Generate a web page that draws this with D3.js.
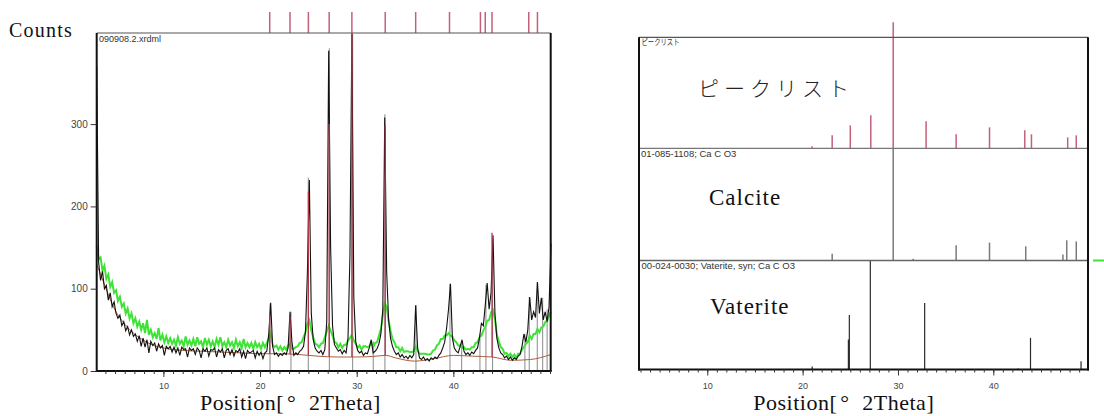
<!DOCTYPE html>
<html>
<head>
<meta charset="utf-8">
<script src="https://cdn.jsdelivr.net/npm/d3@7"></script>
<style>
  body { margin: 0; background: #fff; }
  svg { display: block; }
</style>
</head>
<body>
<script>
// scan grid of the measured pattern (start angle + step size)
const start2Theta = 3.1
const step2Theta = 0.2

// measured counts (black), one value per step
const measuredCounts = [
  370, 132, 110, 121, 100, 104, 86, 95, 78, 84,
  70, 64, 68, 55, 60, 49, 54, 44, 50, 42,
  45, 36, 43, 30, 40, 29, 38, 22, 36, 31,
  34, 24, 33, 28, 31, 19, 30, 27, 30, 23,
  29, 22, 28, 19, 29, 26, 27, 17, 28, 25,
  27, 20, 28, 25, 16, 27, 24, 28, 18, 26,
  25, 28, 17, 26, 23, 27, 16, 25, 27, 20,
  26, 18, 25, 23, 27, 17, 24, 15, 25, 22,
  23, 25, 16, 24, 19, 23, 15, 22, 24, 45,
  83, 30, 20, 22, 18, 21, 19, 22, 20, 28,
  72, 35, 19, 22, 20, 24, 26, 30, 48, 120,
  232, 70, 38, 28, 24, 22, 25, 20, 26, 60,
  389, 150, 55, 32, 28, 24, 26, 21, 25, 22,
  40, 140, 410, 90, 35, 25, 22, 24, 19, 22,
  21, 28, 38, 22, 24, 27, 33, 45, 75, 308,
  120, 62, 40, 30, 24, 20, 22, 17, 20, 16,
  18, 15, 19, 16, 20, 80, 28, 16, 14, 17,
  13, 15, 12, 16, 14, 17, 15, 19, 22, 28,
  35, 52, 75, 106, 40, 28, 24, 22, 30, 38,
  24, 20, 22, 19, 23, 21, 25, 28, 40, 58,
  55, 80, 107, 75, 95, 165, 70, 40, 28, 22,
  20, 16, 18, 14, 17, 13, 16, 14, 18, 20,
  30, 45, 35, 50, 90, 62, 72, 65, 108, 70,
  89, 62, 72, 60, 78, 155
]

// profile (green), same grid
const profileCounts = [
  152, 136, 138, 122, 128, 112, 117, 102, 108, 95,
  98, 85, 90, 78, 82, 70, 76, 64, 70, 58,
  64, 54, 60, 50, 58, 46, 62, 44, 50, 41,
  46, 39, 52, 37, 44, 35, 42, 34, 40, 33,
  38, 31, 41, 33, 37, 30, 42, 32, 37, 31,
  39, 30, 41, 33, 36, 29, 40, 32, 38, 30,
  36, 29, 39, 32, 41, 30, 35, 29, 38, 31,
  35, 28, 38, 30, 35, 28, 39, 29, 34, 29,
  34, 27, 35, 29, 33, 27, 34, 29, 34, 40,
  46, 32, 29, 31, 26, 30, 25, 29, 26, 31,
  33, 27, 27, 29, 30, 34, 35, 41, 47, 58,
  62, 49, 41, 33, 32, 29, 33, 34, 41, 48,
  55, 49, 43, 35, 34, 29, 33, 28, 32, 32,
  37, 40, 44, 37, 33, 28, 31, 26, 30, 30,
  29, 30, 35, 29, 34, 35, 43, 51, 67, 82,
  78, 61, 49, 39, 35, 29, 29, 24, 28, 23,
  24, 24, 23, 23, 24, 30, 25, 21, 21, 21,
  21, 20, 20, 21, 25, 26, 31, 33, 39, 39,
  43, 43, 46, 43, 42, 37, 35, 31, 31, 28,
  29, 26, 27, 26, 29, 29, 34, 35, 41, 43,
  49, 54, 61, 62, 71, 74, 63, 44, 36, 29,
  27, 21, 22, 18, 21, 17, 20, 16, 21, 21,
  26, 29, 33, 35, 43, 39, 45, 45, 51, 47,
  53, 54, 59, 61, 67, 72
]

// background (brown)
const bg2Theta = [3.1, 4, 5, 6, 7, 8, 9, 10, 12, 14, 16, 18, 20, 22, 24, 26, 28, 30, 32, 33, 34, 36, 38, 40, 42, 44, 46, 48, 50.07]
const bgCounts = [130, 102, 74, 57, 45, 37, 31, 28, 25, 24, 23, 22, 21, 21, 20, 18, 17, 17, 18, 19, 16, 12, 15, 19, 18, 17, 13, 14, 20]

// peak list
const peakList2Theta = [21.0, 23.1, 25.0, 27.15, 29.5, 32.95, 36.1, 39.6, 42.8, 43.3, 44.0, 47.8, 48.7]
const peakListIntensity = [1.6, 10.3, 18.2, 26.2, 100, 21.4, 11.1, 16.6, 0.5, 14.3, 11.1, 8.7, 10.3]
const peakFitCounts = [68, 66, 218, 300, 410, 298, 0, 0, 0, 0, 168, 0, 0]

// grey sticks in the pattern
const stick2Theta = [21.03, 23.2, 24.99, 27.17, 29.58, 31.71, 32.92, 36.13, 39.65, 40.86, 42.75, 43.37, 44.06, 47.4, 47.85, 48.68, 49.24, 49.7]
const stickCounts = [82, 72, 235, 392, 410, 36, 312, 80, 106, 36, 45, 105, 160, 45, 90, 108, 89, 75]

// reference patterns
const calcite2Theta = [23.1, 29.5, 31.6, 36.1, 39.6, 43.4, 47.3, 47.7, 48.7]
const calciteIntensity = [6, 100, 1.5, 13.5, 16, 12.6, 5.4, 18, 17]
const vaterite2Theta = [21.0, 24.8, 24.9, 27.1, 32.8, 42.6, 43.9, 49.2, 49.95]
const vateriteIntensity = [2.8, 27.5, 50, 100, 61, 1, 29, 7.5, 18]

const countTicks = [0, 100, 200, 300]
const thetaTicks = [10, 20, 30, 40]

const serif = 'Liberation Serif, Times New Roman, serif'
const sans = 'Liberation Sans, Arial, sans-serif'
const red = '#c4607a'

const svg = d3.select('body').append('svg')
  .attr('width', 1104)
  .attr('height', 416)

// ---------- left chart ----------
const xL = d3.scaleLinear().domain([3.1, 50.07]).range([96.7, 550.7])
const yL = d3.scaleLinear().domain([0, 410.7]).range([371, 33])
const bgAt = d3.scaleLinear().domain(bg2Theta).range(bgCounts)

const measured = measuredCounts.map((c, i) => [start2Theta + i * step2Theta, c])
const profile = profileCounts.map((c, i) => [start2Theta + i * step2Theta, c])
const lineL = d3.line().x(d => xL(d[0])).y(d => yL(d[1]))

const left = svg.append('g')

left.selectAll('.stick')
  .data(stick2Theta)
  .join('line')
  .attr('class', 'stick')
  .attr('x1', d => xL(d)).attr('x2', d => xL(d))
  .attr('y1', yL(0))
  .attr('y2', (d, i) => yL(stickCounts[i]))
  .attr('stroke', '#8a8a8a')
  .attr('stroke-width', 1)

left.append('path')
  .datum(profile)
  .attr('d', lineL)
  .attr('fill', 'none')
  .attr('stroke', '#3ee336')
  .attr('stroke-width', 2)

left.append('path')
  .datum(bg2Theta.map((t, i) => [t, bgCounts[i]]))
  .attr('d', d3.line().x(d => xL(d[0])).y(d => yL(d[1])).curve(d3.curveMonotoneX))
  .attr('fill', 'none')
  .attr('stroke', '#a8603e')
  .attr('stroke-width', 1)

left.append('path')
  .datum(measured)
  .attr('d', lineL)
  .attr('fill', 'none')
  .attr('stroke', '#111')
  .attr('stroke-width', 1.1)

left.selectAll('.fit')
  .data(peakList2Theta.filter((d, i) => peakFitCounts[i] > 0))
  .join('line')
  .attr('class', 'fit')
  .attr('x1', d => xL(d)).attr('x2', d => xL(d))
  .attr('y1', d => yL(bgAt(d)))
  .attr('y2', d => yL(peakFitCounts[peakList2Theta.indexOf(d)]))
  .attr('stroke', '#b8324a')
  .attr('stroke-width', 1.3)

// peak markers above the plot
left.selectAll('.marker')
  .data(peakList2Theta)
  .join('line')
  .attr('class', 'marker')
  .attr('x1', d => xL(d)).attr('x2', d => xL(d))
  .attr('y1', 12).attr('y2', 33)
  .attr('stroke', red)
  .attr('stroke-width', 1.5)

// frame
left.append('line').attr('x1', 96.7).attr('x2', 550.7).attr('y1', 33).attr('y2', 33)
  .attr('stroke', '#555').attr('stroke-width', 1.2)
left.append('line').attr('x1', 550.7).attr('x2', 550.7).attr('y1', 33).attr('y2', 371)
  .attr('stroke', '#111').attr('stroke-width', 2)
left.append('line').attr('x1', 96.7).attr('x2', 96.7).attr('y1', 33).attr('y2', 372)
  .attr('stroke', '#111').attr('stroke-width', 2)
left.append('line').attr('x1', 96).attr('x2', 551.7).attr('y1', 371).attr('y2', 371)
  .attr('stroke', '#111').attr('stroke-width', 2)

function styleAxis(sel, size) {
  sel.select('.domain').remove()
  sel.selectAll('line').attr('stroke', '#333')
  sel.selectAll('text').attr('font-family', sans).attr('font-size', size).attr('fill', '#444')
}

left.append('g').attr('transform', 'translate(0,371)')
  .call(d3.axisBottom(xL).tickValues(d3.range(4, 51)).tickSize(3).tickFormat(''))
  .call(styleAxis, 9)
left.append('g').attr('transform', 'translate(0,371)')
  .call(d3.axisBottom(xL).tickValues(thetaTicks).tickSize(6).tickPadding(6))
  .call(styleAxis, 9)
left.append('g').attr('transform', 'translate(96.7,0)')
  .call(d3.axisLeft(yL).tickValues(countTicks).tickSize(6).tickPadding(3))
  .call(styleAxis, 10)

left.append('text').attr('x', 99).attr('y', 41.5)
  .attr('font-family', sans).attr('font-size', 9).attr('fill', '#333')
  .text('090908.2.xrdml')

svg.append('text').attr('x', 9).attr('y', 37.3)
  .attr('font-family', serif).attr('font-size', 20).attr('letter-spacing', 1.2).attr('fill', '#111')
  .text('Counts')

// ---------- right chart ----------
const xR = d3.scaleLinear().domain([2.84, 49.93]).range([639, 1088])
const panelTop = 37.3, sep1 = 148.3, sep2 = 260.5, rBottom = 369.5
const yP1 = d3.scaleLinear().domain([0, 88]).range([sep1, panelTop])
const yP2 = d3.scaleLinear().domain([0, 100]).range([sep2, sep1])
const yP3 = d3.scaleLinear().domain([0, 100]).range([rBottom, sep2])

const right = svg.append('g')

function sticks(pos, vals, y, color, w) {
  right.append('g').selectAll('line')
    .data(pos)
    .join('line')
    .attr('x1', d => xR(d)).attr('x2', d => xR(d))
    .attr('y1', y(0))
    .attr('y2', (d, i) => y(vals[i]))
    .attr('stroke', color)
    .attr('stroke-width', w)
}

sticks(peakList2Theta, peakListIntensity, yP1, red, 1.5)
sticks(calcite2Theta, calciteIntensity, yP2, '#7a7a7a', 1.5)
sticks(vaterite2Theta, vateriteIntensity, yP3, '#2a2a2a', 1.2)

right.append('line').attr('x1', 639).attr('x2', 1088).attr('y1', panelTop).attr('y2', panelTop)
  .attr('stroke', '#555').attr('stroke-width', 1.2)
right.append('line').attr('x1', 639).attr('x2', 1088).attr('y1', sep1).attr('y2', sep1)
  .attr('stroke', '#777').attr('stroke-width', 1.3)
right.append('line').attr('x1', 639).attr('x2', 1088).attr('y1', sep2).attr('y2', sep2)
  .attr('stroke', '#666').attr('stroke-width', 1.3)
right.append('line').attr('x1', 1093).attr('x2', 1104).attr('y1', sep2).attr('y2', sep2)
  .attr('stroke', '#3ee336').attr('stroke-width', 2)
right.append('line').attr('x1', 639).attr('x2', 639).attr('y1', panelTop).attr('y2', rBottom + 1)
  .attr('stroke', '#111').attr('stroke-width', 2)
right.append('line').attr('x1', 1088).attr('x2', 1088).attr('y1', panelTop).attr('y2', rBottom + 1)
  .attr('stroke', '#111').attr('stroke-width', 2)
right.append('line').attr('x1', 638).attr('x2', 1089).attr('y1', rBottom).attr('y2', rBottom)
  .attr('stroke', '#111').attr('stroke-width', 2)

right.append('g').attr('transform', `translate(0,${rBottom})`)
  .call(d3.axisBottom(xR).tickValues(d3.range(3, 50)).tickSize(3).tickFormat(''))
  .call(styleAxis, 9)
right.append('g').attr('transform', `translate(0,${rBottom})`)
  .call(d3.axisBottom(xR).tickValues(thetaTicks).tickSize(6).tickPadding(7))
  .call(styleAxis, 9)

right.append('text').attr('x', 641.5).attr('y', 45)
  .attr('font-family', 'Noto Sans CJK JP, sans-serif').attr('font-size', 8)
  .attr('textLength', 38).attr('lengthAdjust', 'spacingAndGlyphs').attr('fill', '#333')
  .text('ピークリスト')
right.append('text').attr('x', 641).attr('y', 157)
  .attr('font-family', sans).attr('font-size', 9.5).attr('fill', '#333')
  .text('01-085-1108; Ca C O3')
right.append('text').attr('x', 641.5).attr('y', 268.5)
  .attr('font-family', sans).attr('font-size', 9.5).attr('fill', '#333')
  .text('00-024-0030; Vaterite, syn; Ca C O3')

right.append('text').attr('x', 698).attr('y', 96)
  .attr('font-family', 'Noto Sans CJK JP, sans-serif').attr('font-weight', 300)
  .attr('font-size', 21).attr('letter-spacing', 5).attr('fill', '#222')
  .text('ピークリスト')
right.append('text').attr('x', 709).attr('y', 205)
  .attr('font-family', serif).attr('font-size', 23).attr('letter-spacing', 1).attr('fill', '#111')
  .text('Calcite')
right.append('text').attr('x', 710).attr('y', 314)
  .attr('font-family', serif).attr('font-size', 23).attr('letter-spacing', 1).attr('fill', '#111')
  .text('Vaterite')

// x titles
function xTitle(x0) {
  const t = svg.append('text').attr('x', x0).attr('y', 410)
    .attr('font-family', serif).attr('font-size', 22).attr('letter-spacing', 0.5).attr('fill', '#111')
  t.append('tspan').text('Position[')
  t.append('tspan').attr('dx', 3).text('°')
  t.append('tspan').attr('x', x0 + 109).text('2Theta]')
}
xTitle(200)
xTitle(753.3)
</script>
</body>
</html>
